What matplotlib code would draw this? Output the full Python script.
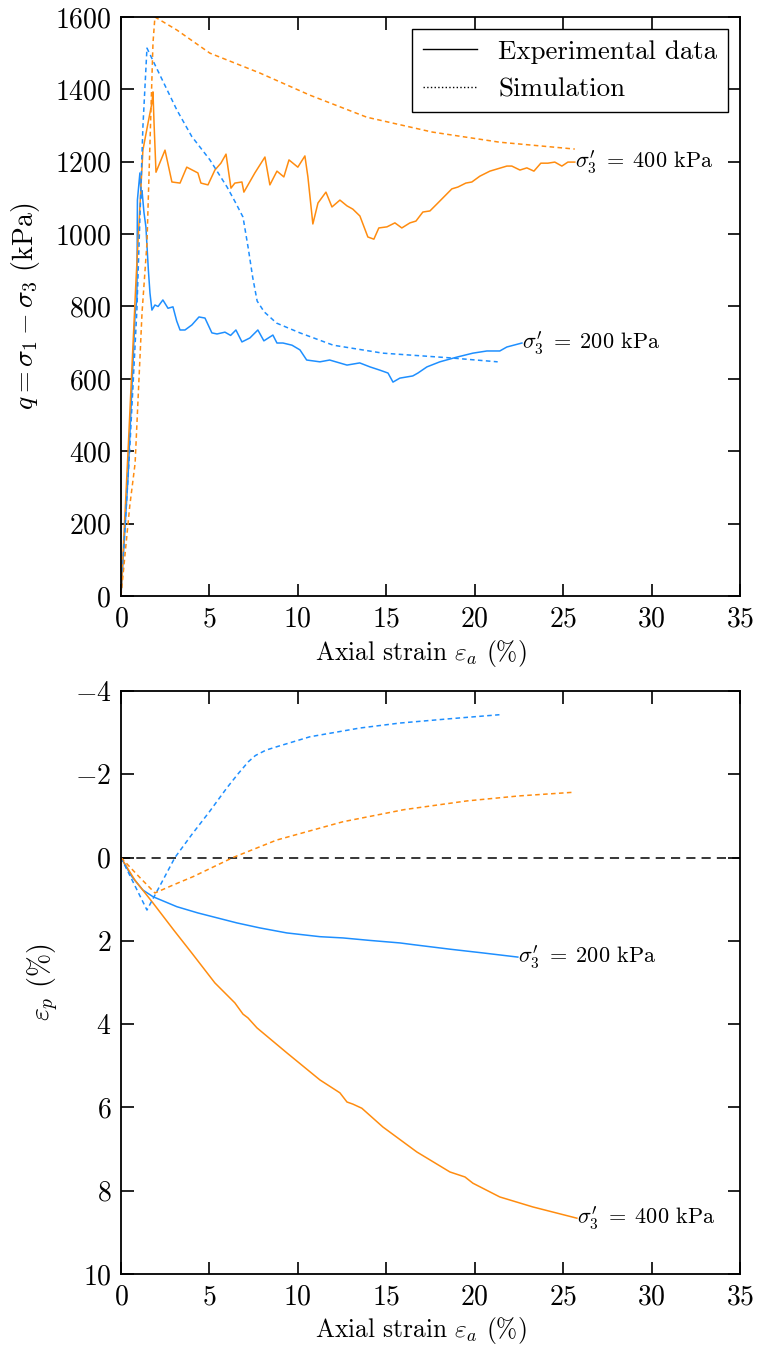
import matplotlib
matplotlib.use("Agg")
from matplotlib import pyplot as plt
from matplotlib.lines import Line2D

plt.rcParams['font.family'] = 'serif'
plt.rcParams['font.serif'] = ['cmr10']
plt.rcParams['mathtext.fontset'] = 'cm'
plt.rcParams['axes.formatter.use_mathtext'] = True
plt.rcParams['axes.unicode_minus'] = True

BLUE = '#1e8fff'
ORANGE = '#ff8c0f'

# ---- deviatoric stress q (kPa) vs axial strain (%) ----
# sigma3' = 200 kPa, experiment
q200_exp_x = [0, 0.4, 0.8, 0.9, 0.93, 1.07, 1.15, 1.19, 1.3, 1.41, 1.55, 1.64, 1.75, 1.92, 2.1,
              2.37, 2.66, 2.94, 3.15, 3.34, 3.62, 4.01, 4.41, 4.75, 5.14, 5.43, 5.88, 6.2, 6.5,
              6.84, 7.29, 7.74, 8.08, 8.59, 8.82, 9.16, 9.67, 10.12, 10.5, 11.25, 11.8, 12.78,
              13.5, 14.08, 14.64, 15.1, 15.38, 15.77, 16.5, 16.79, 17.3, 18.03, 18.99, 19.9,
              20.69, 21.42, 21.82, 22.67]
q200_exp_y = [0, 330, 780, 820, 1094, 1169, 1100, 1120, 1060, 1020, 900, 837, 790, 804, 800,
              818, 795, 799, 760, 735, 735, 749, 771, 768, 727, 724, 729, 720, 735,
              702, 713, 735, 705, 721, 699, 699, 693, 680, 652, 647, 652, 638,
              644, 633, 624, 616, 591, 602, 608, 616, 633, 647, 660, 671,
              677, 677, 688, 699]

# sigma3' = 400 kPa, experiment
q400_exp_x = [0, 0.4, 0.85, 1.24, 1.53, 1.75, 1.81, 1.87, 1.98, 2.49, 2.88, 3.34, 3.72, 4.35,
              4.52, 4.92, 5.31, 5.65, 5.94, 6.22, 6.44, 6.84, 6.95, 7.57, 8.14, 8.42, 8.82,
              9.21, 9.50, 10.0, 10.4, 10.57, 10.85, 11.14, 11.59, 11.93, 12.38, 12.78, 13.11,
              13.51, 13.96, 14.30, 14.58, 15.04, 15.49, 15.88, 16.34, 16.68, 17.07, 17.47,
              17.86, 18.71, 19.05, 19.50, 19.84, 20.29, 20.86, 21.82, 22.10, 22.56, 22.95,
              23.35, 23.74, 24.14, 24.53, 24.93, 25.27, 25.66]
q400_exp_y = [0, 400, 873, 1232, 1307, 1362, 1393, 1307, 1171, 1232, 1144, 1141, 1185, 1169,
              1141, 1136, 1177, 1196, 1221, 1127, 1141, 1144, 1116, 1169, 1213, 1136, 1174,
              1158, 1205, 1185, 1216, 1158, 1028, 1086, 1116, 1075, 1094, 1078, 1069,
              1050, 992, 986, 1017, 1020, 1031, 1017, 1031, 1036, 1061, 1064,
              1083, 1125, 1130, 1141, 1144, 1160, 1174, 1188, 1188, 1177, 1183,
              1174, 1196, 1196, 1199, 1188, 1199, 1199]

# simulations
q200_sim_x = [0, 0.5, 0.9, 1.24, 1.47, 2.0, 3.16, 4.0, 5.03, 6.0, 6.5, 6.9, 7.2, 7.45, 7.7,
              8.1, 8.8, 10.12, 12.0, 14.8, 18.6, 21.3]
q200_sim_y = [0, 410, 790, 1296, 1514, 1460, 1343, 1270, 1205, 1130, 1085, 1047, 960, 880, 815,
              785, 754, 727, 693, 671, 658, 647]
q400_sim_x = [0, 0.5, 0.8, 1.19, 1.47, 1.64, 1.81, 1.92, 3.16, 5.03, 7.86, 10.68, 13.9, 17.6,
              21.4, 25.66]
q400_sim_y = [0, 250, 367, 782, 975, 1252, 1528, 1600, 1564, 1500, 1445, 1384, 1323, 1282,
              1254, 1235]

# ---- volumetric strain (%) vs axial strain (%) ----
ev200_exp_x = [0, 0.6, 1.24, 1.81, 3.16, 4.35, 6.56, 7.86, 9.38, 11.25, 12.55, 14.08, 15.77,
               16.5, 18.6, 20.46, 22.44]
ev200_exp_y = [0, 0.45, 0.78, 0.94, 1.18, 1.33, 1.57, 1.69, 1.81, 1.9, 1.93, 1.99, 2.05,
               2.09, 2.2, 2.29, 2.39]
ev400_exp_x = [0, 0.8, 1.81, 3.0, 4.0, 5.31, 6.44, 6.9, 7.18, 7.69, 9.38, 11.25, 12.38, 12.78,
               13.11, 13.62, 14.81, 16.73, 18.6, 19.45, 19.9, 21.42, 23.29, 25.78]
ev400_exp_y = [0, 0.55, 1.09, 1.75, 2.29, 3.01, 3.49, 3.76, 3.85, 4.09, 4.69, 5.34, 5.65, 5.87,
               5.92, 6.02, 6.47, 7.07, 7.55, 7.67, 7.82, 8.15, 8.39, 8.66]
ev200_sim_x = [0, 0.7, 1.47, 2.3, 3.05, 4.0, 5.0, 6.0, 6.6, 7.2, 7.6, 8.2, 8.8, 10.68, 13.5,
               15.77, 18.5, 21.4]
ev200_sim_y = [0, 0.6, 1.26, 0.6, 0.0, -0.55, -1.1, -1.68, -2.0, -2.3, -2.45, -2.58, -2.66,
               -2.9, -3.11, -3.23, -3.33, -3.43]
ev400_sim_x = [0, 1.0, 1.92, 3.0, 4.07, 6.33, 8.8, 12.55, 16.0, 19.56, 22.5, 25.66]
ev400_sim_y = [0, 0.45, 0.85, 0.65, 0.46, 0, -0.42, -0.86, -1.15, -1.36, -1.48, -1.57]

labels = [r"$\sigma_3' \;=\; 200$ kPa", r"$\sigma_3' \;=\; 400$ kPa"]

fig = plt.figure(figsize=(7.57, 13.48), dpi=100)
ax1 = fig.add_axes([0.1598, 0.5579, 0.8177, 0.4295])
ax2 = fig.add_axes([0.1598, 0.0549, 0.8177, 0.4325])

lw = 1.1
dash = (3, 2.2)
tfs = 20      # tick labels
xfs = 18.3    # x labels
yfs = 20      # y labels
gfs = 19.4    # legend
afs = 16      # curve annotations

# top panel
ax1.plot(q200_exp_x, q200_exp_y, color=BLUE, lw=lw)
ax1.plot(q400_exp_x, q400_exp_y, color=ORANGE, lw=lw)
ax1.plot(q200_sim_x, q200_sim_y, color=BLUE, lw=lw, dashes=dash)
ax1.plot(q400_sim_x, q400_sim_y, color=ORANGE, lw=lw, dashes=dash)
ax1.text(q200_exp_x[-1], q200_exp_y[-1], labels[0], fontsize=afs, ha='left', va='center')
ax1.text(q400_exp_x[-1], q400_exp_y[-1], labels[1], fontsize=afs, ha='left', va='center')
ax1.set_xlim(0, 35)
ax1.set_ylim(0, 1600)
ax1.set_yticks(range(0, 1601, 200))
ax1.set_xlabel(r"Axial strain $\varepsilon_a$ (%)", fontsize=xfs)
ax1.set_ylabel(r"$q = \sigma_1 - \sigma_3$ (kPa)", fontsize=yfs)
ax1.yaxis.set_label_coords(-0.128, 0.5)
ax1.xaxis.set_label_coords(0.485, -0.072)

handles = [Line2D([], [], color='k', lw=1.0),
           Line2D([], [], color='k', lw=1.0, ls=':')]
leg = ax1.legend(handles, ['Experimental data', 'Simulation'], loc='upper right',
                 fontsize=gfs, fancybox=False, framealpha=1, edgecolor='k',
                 handlelength=2.0, handletextpad=0.8, borderaxespad=0.45)
leg.get_frame().set_linewidth(1.0)

# bottom panel
ax2.axhline(0, color='k', lw=1.1, dashes=(6, 4))
ax2.plot(ev200_exp_x, ev200_exp_y, color=BLUE, lw=lw)
ax2.plot(ev400_exp_x, ev400_exp_y, color=ORANGE, lw=lw)
ax2.plot(ev200_sim_x, ev200_sim_y, color=BLUE, lw=lw, dashes=dash)
ax2.plot(ev400_sim_x, ev400_sim_y, color=ORANGE, lw=lw, dashes=dash)
ax2.text(ev200_exp_x[-1], ev200_exp_y[-1], labels[0], fontsize=afs, ha='left', va='center')
ax2.text(ev400_exp_x[-1], ev400_exp_y[-1], labels[1], fontsize=afs, ha='left', va='center')
ax2.set_xlim(0, 35)
ax2.set_ylim(10, -4)
ax2.set_yticks(range(-4, 11, 2))
ax2.set_xlabel(r"Axial strain $\varepsilon_a$ (%)", fontsize=xfs)
ax2.set_ylabel(r"$\varepsilon_p$ (%)", fontsize=yfs)
ax2.yaxis.set_label_coords(-0.097, 0.5)
ax2.xaxis.set_label_coords(0.485, -0.071)

for ax in (ax1, ax2):
    ax.set_xticks(range(0, 36, 5))
    ax.tick_params(direction='in', top=True, right=True, length=9, width=1.2,
                   labelsize=tfs, pad=7)
    for s in ax.spines.values():
        s.set_linewidth(1.3)

fig.savefig('out.png', dpi=100)
